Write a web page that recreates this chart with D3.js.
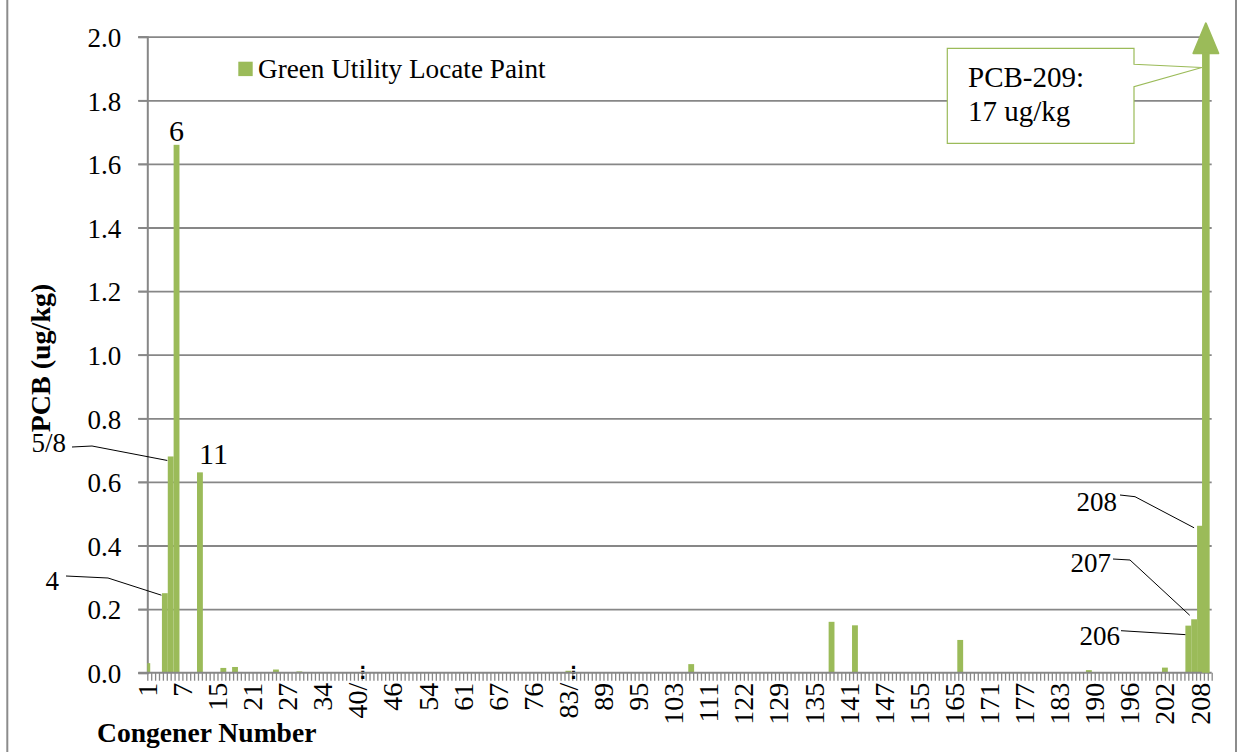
<!DOCTYPE html>
<html>
<head>
<meta charset="utf-8">
<script src="https://cdn.jsdelivr.net/npm/d3@7"></script>
<style>
  html, body { margin: 0; padding: 0; background: #fff; }
  svg { display: block; font-family: "Liberation Serif", "Times New Roman", serif; }
</style>
</head>
<body>
<svg id="chart" width="1241" height="752"></svg>
<script>
// ---------------- DATA ----------------
const congeners = [
  "1","2","3","4","5/8","6",
  "7","9","10","11","12/13","14",
  "15","16","17","18","19","20",
  "21","22","23","24","25","26",
  "27","28","29","30","31","32/33",
  "34","35","36","37","38","39",
  "40/71","41","42","43","44","45",
  "46","47/48","49","50/53","51","52",
  "54","55","56/60","57","58","59",
  "61","62","63","64","65","66",
  "67","68","69","70/74","72","73/75",
  "76","77","78","79","80","81/82",
  "83/99","84","85","86","87","88",
  "89","90","91","92","93","94",
  "95","96","97","98","100","101/102",
  "103","104","105","106/107","108","109/110",
  "111","112/113","114/115","116/117","118/119","120/121",
  "122","123","124","125","126","127/128",
  "129","130","131","132","133","134",
  "135","136","137","138","139","140",
  "141","142","143","144","145","146",
  "147","148","149","150","151/152","153/154",
  "155","156/157","158/159","160/161","162/163","164",
  "165","166","167","168","169","170",
  "171","172","173","174","175","176",
  "177","178","179","180","181","182",
  "183","184","185","186","187","188/189",
  "190","191","192","193","194","195",
  "196","197","198","199","200","201",
  "202","203","204","205","206","207",
  "208","209"
];

// PCB concentration (ug/kg), Green Utility Locate Paint, aligned with congeners
const concentrations = [
  0.03, 0, 0, 0.25, 0.68, 1.66,
  0, 0, 0, 0.63, 0, 0,
  0, 0.015, 0, 0.018, 0, 0,
  0, 0, 0, 0, 0.010, 0,
  0, 0, 0.004, 0, 0, 0,
  0, 0, 0, 0, 0, 0,
  0, 0, 0, 0, 0, 0,
  0, 0, 0, 0, 0, 0,
  0, 0, 0, 0, 0, 0,
  0, 0, 0, 0, 0, 0,
  0, 0, 0, 0, 0, 0,
  0, 0, 0, 0, 0, 0,
  0.006, 0, 0, 0, 0, 0,
  0, 0, 0, 0, 0, 0,
  0, 0, 0, 0, 0, 0,
  0, 0, 0, 0.027, 0, 0,
  0, 0, 0, 0, 0, 0,
  0, 0, 0, 0, 0, 0,
  0, 0, 0, 0, 0, 0,
  0, 0, 0, 0.16, 0, 0,
  0, 0.149, 0, 0, 0, 0,
  0, 0, 0, 0, 0, 0,
  0, 0, 0, 0, 0, 0,
  0, 0.103, 0, 0, 0, 0,
  0, 0, 0, 0, 0, 0,
  0, 0, 0, 0, 0, 0,
  0, 0, 0, 0, 0, 0.008,
  0, 0, 0, 0, 0, 0,
  0, 0, 0, 0, 0, 0,
  0.016, 0, 0, 0, 0.148, 0.168,
  0.462, 17
];

const seriesName = "Green Utility Locate Paint";
const yTickValues = [0, 0.2, 0.4, 0.6, 0.8, 1.0, 1.2, 1.4, 1.6, 1.8, 2.0];
const xLabelCongeners = congeners.filter((d, i) => i % 6 === 0 && i <= 180);
const valueLabels = ["6", "11"];               // labels placed above bars
const leaderLabels = ["5/8", "4", "208", "207", "206"]; // labels with leader lines
const offScaleCongener = "209";
const offScaleText = ["PCB-209:", "17 ug/kg"];
const yTitle = "PCB (ug/kg)";
const xTitle = "Congener Number";

// ---------------- LAYOUT ----------------
const green = "#9BBB59";
const gridGray = "#878787";
const plotL = 147.3, plotR = 1211.7, plotT = 36.7, plotB = 672.7;
const step = (plotR - plotL) / congeners.length;

const svg = d3.select("#chart");
svg.append("rect").attr("width", 1241).attr("height", 752).attr("fill", "#fff");

// chart-area border
svg.append("line").attr("x1", 7.3).attr("x2", 7.3).attr("y1", 0).attr("y2", 752)
  .attr("stroke", "#8c8c8c").attr("stroke-width", 2);
svg.append("line").attr("x1", 1236).attr("x2", 1236).attr("y1", 0).attr("y2", 752)
  .attr("stroke", "#8c8c8c").attr("stroke-width", 2);

const x = d3.scaleBand().domain(congeners)
  .range([plotL - step / 2, plotR - step / 2]).paddingInner(0).paddingOuter(0);
const y = d3.scaleLinear().domain([0, 2]).range([plotB, plotT]);
const val = d => concentrations[congeners.indexOf(d)];
const cx = d => x(d) + x.bandwidth() / 2;

// gridlines (extend left as tick marks)
const grid = svg.append("g").attr("transform", `translate(${plotR},0)`)
  .call(d3.axisLeft(y).tickValues(yTickValues.filter(v => v > 0))
    .tickSize(plotR - plotL + 9).tickFormat(""));
grid.select(".domain").remove();
grid.selectAll("line").attr("stroke", gridGray).attr("stroke-width", 1.8);

// y axis
const yAxis = svg.append("g").attr("transform", `translate(${plotL},0)`)
  .call(d3.axisLeft(y).tickValues(yTickValues).tickSize(9).tickPadding(17)
    .tickFormat(d3.format(".1f")));
yAxis.select(".domain").attr("stroke", gridGray).attr("stroke-width", 2);
yAxis.selectAll("line").attr("stroke", gridGray).attr("stroke-width", 1.8);
yAxis.selectAll("text").attr("font-family", "Liberation Serif").attr("font-size", 27)
  .attr("fill", "#000").attr("dy", "0.36em");

// bars
svg.append("clipPath").attr("id", "plotclip").append("rect")
  .attr("x", plotL).attr("y", plotT).attr("width", plotR - plotL).attr("height", plotB - plotT);
svg.append("g").attr("clip-path", "url(#plotclip)")
  .selectAll("rect").data(congeners.filter(d => val(d) > 0)).join("rect")
  .attr("x", d => x(d)).attr("width", x.bandwidth())
  .attr("y", d => y(Math.min(val(d), 2.2)))
  .attr("height", d => y(0) - y(Math.min(val(d), 2.2)))
  .attr("fill", green);

// minor tick marks along the category axis
const tickIdx = d3.scaleLinear().domain([0, 273]).range([plotL, plotR]);
const minor = svg.append("g").attr("transform", `translate(0,${plotB})`)
  .call(d3.axisBottom(tickIdx).tickValues(d3.range(0, 274)).tickSize(8).tickFormat(""));
minor.select(".domain").remove();
minor.selectAll("line").attr("stroke", gridGray).attr("stroke-width", 1.3);

// x axis labels
const xAxis = svg.append("g").attr("transform", `translate(0,${plotB})`)
  .call(d3.axisBottom(x).tickValues(xLabelCongeners).tickSize(0)
    .tickFormat(d => d.includes("/") ? d.split("/")[0] + "/" : d));
xAxis.select(".domain").remove();
xAxis.selectAll("text")
  .attr("font-family", "Liberation Serif").attr("font-size", 28).attr("fill", "#000")
  .attr("transform", "rotate(-90)").attr("x", -10).attr("y", 0).attr("dy", "0.34em")
  .style("text-anchor", "end");
// overflow dots of the truncated multi-congener labels
xAxis.selectAll(".tick").filter(d => d.includes("/")).append("text")
  .attr("x", 5).attr("y", -1).attr("dy", "0.35em").attr("text-anchor", "middle")
  .attr("font-family", "DejaVu Sans").attr("font-size", 17).attr("font-weight", "bold")
  .attr("fill", "#000").text("⋮");

// x axis line
svg.append("line").attr("x1", plotL - 9).attr("x2", plotR).attr("y1", plotB).attr("y2", plotB)
  .attr("stroke", gridGray).attr("stroke-width", 2);

// off-scale arrow for PCB-209
const ax = cx(offScaleCongener);
svg.append("line").attr("x1", ax).attr("x2", ax).attr("y1", y(0)).attr("y2", y(2) + 14)
  .attr("stroke", green).attr("stroke-width", 7.6);
svg.append("path")
  .attr("d", `M${ax},${y(2) - 13.4} L${ax + 12.5},${y(2) + 16.6} L${ax - 12.5},${y(2) + 16.6} Z`)
  .attr("fill", green).attr("stroke", green).attr("stroke-width", 2).attr("stroke-linejoin", "round");

// callout
const cb = { l: 947.3, r: 1134, t: 48.3, b: 143.3 };
svg.append("path")
  .attr("d", `M${cb.l},${cb.t} H${cb.r} V${cb.t + 16} L${ax - 4},${y(1.9) - 1} L${cb.r},${cb.t + 38.4} V${cb.b} H${cb.l} Z`)
  .attr("fill", "#fff").attr("stroke", green).attr("stroke-width", 1.2);
svg.append("g").selectAll("text").data(offScaleText).join("text")
  .attr("x", 968).attr("y", (d, i) => 87 + i * 34)
  .attr("font-size", 29).attr("fill", "#000").text(d => d);

// value labels above bars
svg.append("text").attr("x", cx("6")).attr("y", y(val("6")) - 4).attr("text-anchor", "middle")
  .attr("font-size", 30).text(valueLabels[0]);
svg.append("text").attr("x", x("11") + 2).attr("y", y(val("11")) - 8).attr("text-anchor", "start")
  .attr("font-size", 30).text(valueLabels[1]);

// leader labels
const leaders = [
  { c: "5/8", tx: 66, ty: 452, anchor: "end", pts: d => [[72, 447], [92, 446], [x(d) - 0.5, y(val(d)) + 4]] },
  { c: "4", tx: 59, ty: 590, anchor: "end", pts: d => [[66, 576], [108, 578], [x(d) - 0.5, y(val(d)) + 2]] },
  { c: "208", tx: 1117, ty: 511, anchor: "end", pts: d => [[1120, 495], [1135, 496.7], [x(d) - 3, y(val(d)) + 2]] },
  { c: "207", tx: 1111, ty: 572, anchor: "end", pts: d => [[1113, 559], [1130, 560], [x(d) - 1.5, y(val(d)) - 4]] },
  { c: "206", tx: 1120, ty: 645, anchor: "end", pts: d => [[1121, 630.7], [x(d), y(val(d)) + 9]] }
];
leaders.forEach(L => {
  svg.append("path").attr("d", d3.line()(L.pts(L.c)))
    .attr("fill", "none").attr("stroke", "#000").attr("stroke-width", 1);
  svg.append("text").attr("x", L.tx).attr("y", L.ty).attr("text-anchor", L.anchor)
    .attr("font-size", 27).text(leaderLabels[leaderLabels.indexOf(L.c)]);
});

// legend
svg.append("rect").attr("x", 238.3).attr("y", 61.7).attr("width", 14.4).attr("height", 14.4).attr("fill", green);
svg.append("text").attr("x", 258).attr("y", 78).attr("font-size", 27.2).text(seriesName);

// axis titles
svg.append("text").attr("transform", "translate(50,358) rotate(-90)").attr("text-anchor", "middle")
  .attr("font-weight", "bold").attr("font-size", 28).text(yTitle);
svg.append("text").attr("x", 97).attr("y", 742).attr("font-weight", "bold").attr("font-size", 27.6).text(xTitle);
</script>
</body>
</html>
